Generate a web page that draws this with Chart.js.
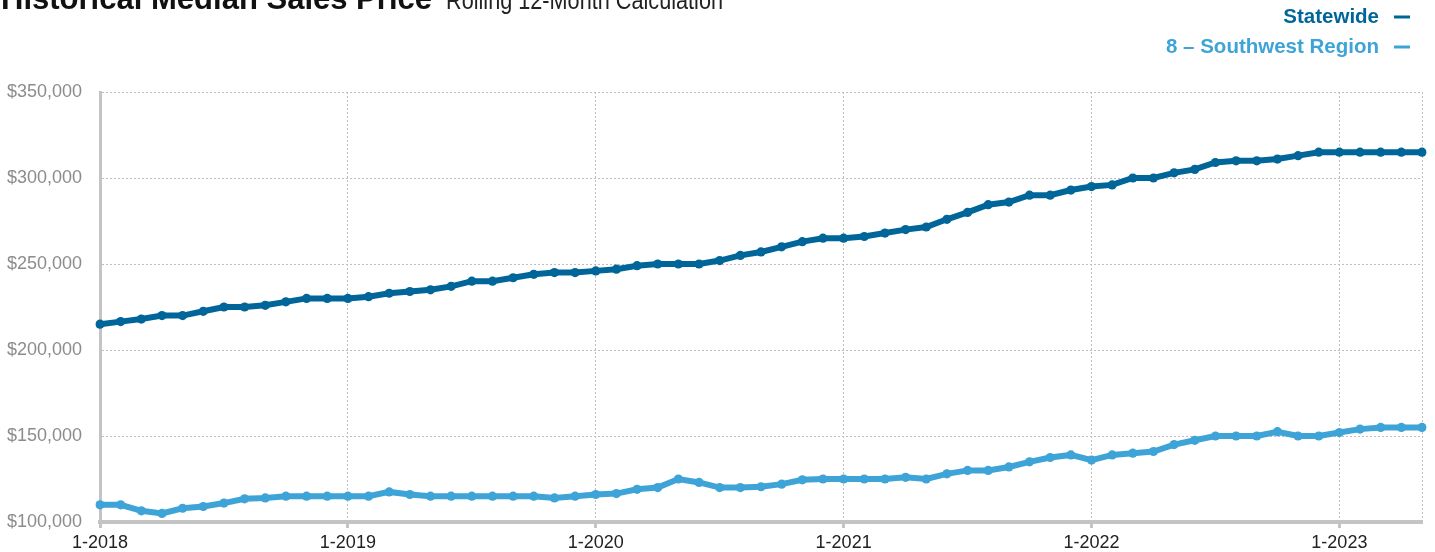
<!DOCTYPE html>
<html>
<head>
<meta charset="utf-8">
<title>Historical Median Sales Price</title>
<script src="https://cdn.jsdelivr.net/npm/chart.js@4"></script>
<style>
  html, body { margin: 0; padding: 0; background: #fff; }
  #wrap { position: relative; width: 1435px; height: 552px; overflow: hidden; }
</style>
</head>
<body>
<div id="wrap"><canvas id="myChart" width="1435" height="552"></canvas></div>
<script>
// monthly labels, 1-2018 through 5-2023
var months = [];
for (var y = 2018; y <= 2023; y++) {
  for (var m = 1; m <= 12; m++) {
    if (y === 2023 && m > 5) break;
    months.push(m + '-' + y);
  }
}

var statewide = [
  215000, 216500, 218000, 220000, 220000, 222500, 225000, 225000, 226000, 228000, 230000, 230000,
  230000, 231000, 233000, 234000, 235000, 237000, 240000, 240000, 242000, 244000, 245000, 245000,
  246000, 247000, 249000, 250000, 250000, 250000, 252000, 255000, 257000, 260000, 263000, 265000,
  265000, 266000, 268000, 270000, 271500, 276000, 280000, 284500, 286000, 290000, 290000, 293000,
  295000, 296000, 300000, 300000, 303000, 305000, 309000, 310000, 310000, 311000, 313000, 315000,
  315000, 315000, 315000, 315000, 315000
];

var southwest = [
  110000, 110000, 106500, 105000, 108000, 109000, 111000, 113500, 114000, 115000, 115000, 115000,
  115000, 115000, 117500, 116000, 115000, 115000, 115000, 115000, 115000, 115000, 114000, 115000,
  116000, 116500, 119000, 120000, 125000, 123000, 120000, 120000, 120500, 122000, 124500, 125000,
  125000, 125000, 125000, 126000, 125000, 128000, 130000, 130000, 132000, 135000, 137500, 139000,
  136000, 139000, 140000, 141000, 145000, 147500, 150000, 150000, 150000, 152500, 150000, 150000,
  152000, 154000, 155000, 155000, 155000
];

var seriesNames = ['Statewide', '8 \u2013 Southwest Region'];
var seriesColors = ['rgb(0, 102, 153)', 'rgb(62, 164, 216)'];

var gridGray = '#bdbdbd';
var axisGray = '#c4c4c4';

function isYearStart(i) {
  return months[i] && months[i].indexOf('1-') === 0;
}

// title, subtitle and the right-hand legend drawn straight onto the canvas
var headerPlugin = {
  id: 'header',
  afterDraw: function (chart) {
    var ctx = chart.ctx;
    ctx.save();
    ctx.textBaseline = 'alphabetic';
    ctx.textAlign = 'left';

    function fitText(text, font, x, y, width, color) {
      ctx.font = font;
      ctx.fillStyle = color;
      var w = ctx.measureText(text).width;
      ctx.save();
      ctx.translate(x, y);
      ctx.scale(width / w, 1);
      ctx.fillText(text, 0, 0);
      ctx.restore();
    }
    fitText('Historical Median Sales Price', 'bold 32px "Liberation Sans"', 1, 9, 431, '#111');
    fitText('Rolling 12-Month Calculation', '25px "Liberation Sans"', 446, 9, 277, '#222');

    ctx.font = 'bold 20.5px "Liberation Sans"';
    ctx.textAlign = 'right';
    ctx.textBaseline = 'middle';
    var rows = [17, 47];
    for (var i = 0; i < seriesNames.length; i++) {
      ctx.fillStyle = seriesColors[i];
      ctx.fillText(seriesNames[i], 1379, rows[i]);
      ctx.fillRect(1394, rows[i] - 1.5, 16, 3);
    }
    ctx.restore();
  }
};

var ctx = document.getElementById('myChart').getContext('2d');
var myChart = new Chart(ctx, {
  type: 'line',
  data: {
    labels: months,
    datasets: [{
      label: seriesNames[0],
      data: statewide,
      borderColor: seriesColors[0],
      backgroundColor: seriesColors[0],
      borderWidth: 6,
      pointRadius: 4.6,
      pointBorderWidth: 0,
      tension: 0
    }, {
      label: seriesNames[1],
      data: southwest,
      borderColor: seriesColors[1],
      backgroundColor: seriesColors[1],
      borderWidth: 6,
      pointRadius: 4.6,
      pointBorderWidth: 0,
      tension: 0
    }]
  },
  options: {
    responsive: false,
    animation: false,
    layout: { padding: { top: 92, right: 13, left: 0, bottom: 0 } },
    plugins: {
      legend: { display: false },
      tooltip: { enabled: false }
    },
    scales: {
      x: {
        afterFit: function (scale) { scale.height = 30; },
        grid: {
          color: function (c) {
            return (isYearStart(c.index) || c.index === months.length - 1) ? gridGray : 'transparent';
          },
          tickColor: function (c) {
            return isYearStart(c.index) ? axisGray : 'transparent';
          },
          lineWidth: 1,
          tickLength: 6,
          tickWidth: 3
        },
        border: { color: axisGray, width: 4, dash: [2, 2] },
        ticks: {
          autoSkip: false,
          maxRotation: 0,
          padding: 4,
          color: '#222',
          font: { family: '"Liberation Sans"', size: 18 },
          callback: function (value, index) {
            return isYearStart(index) ? months[index] : '';
          }
        }
      },
      y: {
        min: 100000,
        max: 350000,
        afterFit: function (scale) { scale.width = 100; },
        grid: { color: gridGray, lineWidth: 1, drawTicks: false },
        border: { color: axisGray, width: 3, dash: [2, 2] },
        ticks: {
          stepSize: 50000,
          padding: 18,
          color: '#8c8c8c',
          font: { family: '"Liberation Sans"', size: 18 },
          callback: function (value) {
            return '$' + value.toLocaleString('en-US');
          }
        }
      }
    }
  },
  plugins: [headerPlugin]
});
</script>
</body>
</html>
